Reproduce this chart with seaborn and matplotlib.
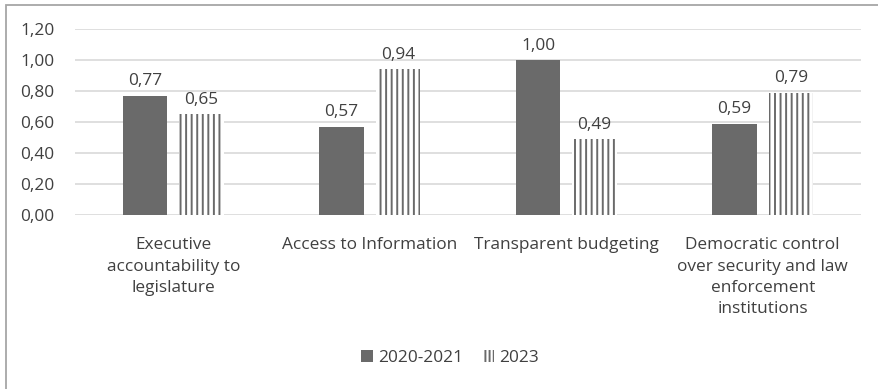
import matplotlib
matplotlib.use("Agg")
import matplotlib.pyplot as plt
import seaborn as sns
import pandas as pd
from matplotlib.patches import Rectangle, Patch

# Index scores per dimension and period
categories = [
    "Executive\naccountability to\nlegislature",
    "Access to Information",
    "Transparent budgeting",
    "Democratic control\nover security and law\nenforcement\ninstitutions",
]
series_names = ["2020-2021", "2023"]
values_2020_2021 = [0.77, 0.57, 1.00, 0.59]
values_2023 = [0.65, 0.94, 0.49, 0.79]
y_ticks = [0.0, 0.2, 0.4, 0.6, 0.8, 1.0, 1.2]

df = pd.DataFrame({
    "category": categories * 2,
    "period": [series_names[0]] * 4 + [series_names[1]] * 4,
    "score": values_2020_2021 + values_2023,
})

sns.set_theme(style="white")
plt.rcParams["font.family"] = ["Open Sans", "DejaVu Sans"]
plt.rcParams["hatch.linewidth"] = 1.4

TEXT = "#404040"
BAR = "#6a6a6a"
GRID = "#d9d9d9"
FS = 12.4

W, H = 879, 389
fig = plt.figure(figsize=(W / 100, H / 100), dpi=100)
ax = fig.add_axes([75 / W, (H - 215) / H, (861 - 75) / W, (215 - 29) / H])

sns.barplot(data=df, x="category", y="score", hue="period", order=categories,
            hue_order=series_names, palette=[BAR, BAR], width=0.575, gap=0.22,
            ax=ax, legend=False, errorbar=None, saturation=1)

n = len(categories)
patches = ax.patches[:2 * n]
for i, p in enumerate(patches):
    p.set_linewidth(0)
    if i >= n:
        p.set_facecolor("white")
        p.set_edgecolor(BAR)
        p.set_hatch("|||")

for p in patches:
    v = p.get_height()
    ax.text(p.get_x() + p.get_width() / 2, v + 0.04, f"{v:.2f}".replace(".", ","),
            ha="center", va="bottom", fontsize=FS, color=TEXT)

ax.set_ylim(0, 1.2)
ax.set_xlim(-0.5, n - 0.5)
ax.set_yticks(y_ticks)
ax.set_yticklabels([f"{t:.2f}".replace(".", ",") for t in y_ticks])
ax.yaxis.grid(True, color=GRID, linewidth=1.2)
ax.set_axisbelow(True)
for s in ax.spines.values():
    s.set_visible(False)
ax.tick_params(axis="y", length=0, pad=15, labelsize=FS, labelcolor=TEXT)
ax.tick_params(axis="x", length=0, pad=16, labelsize=FS, labelcolor=TEXT)
ax.set_xlabel("")
ax.set_ylabel("")
for lbl in ax.get_xticklabels():
    lbl.set_linespacing(1.45)
    lbl.set_verticalalignment("top")

handles = [
    Patch(facecolor=BAR, edgecolor=BAR, linewidth=0),
    Patch(facecolor="white", edgecolor=BAR, hatch="||||", linewidth=0),
]
fig.legend(handles, series_names, loc="center", bbox_to_anchor=(450 / W, 1 - 358 / H),
           ncol=2, frameon=False, fontsize=FS, labelcolor=TEXT,
           handlelength=0.65, handleheight=0.65, handletextpad=0.3, columnspacing=1.15)

fig.add_artist(Rectangle((6 / W, -0.05), 1.2, 1 - 5 / H + 0.05, transform=fig.transFigure,
                         fill=False, edgecolor="#a6a6a6", linewidth=1.3))

fig.savefig("out.png", dpi=100, facecolor="white")
